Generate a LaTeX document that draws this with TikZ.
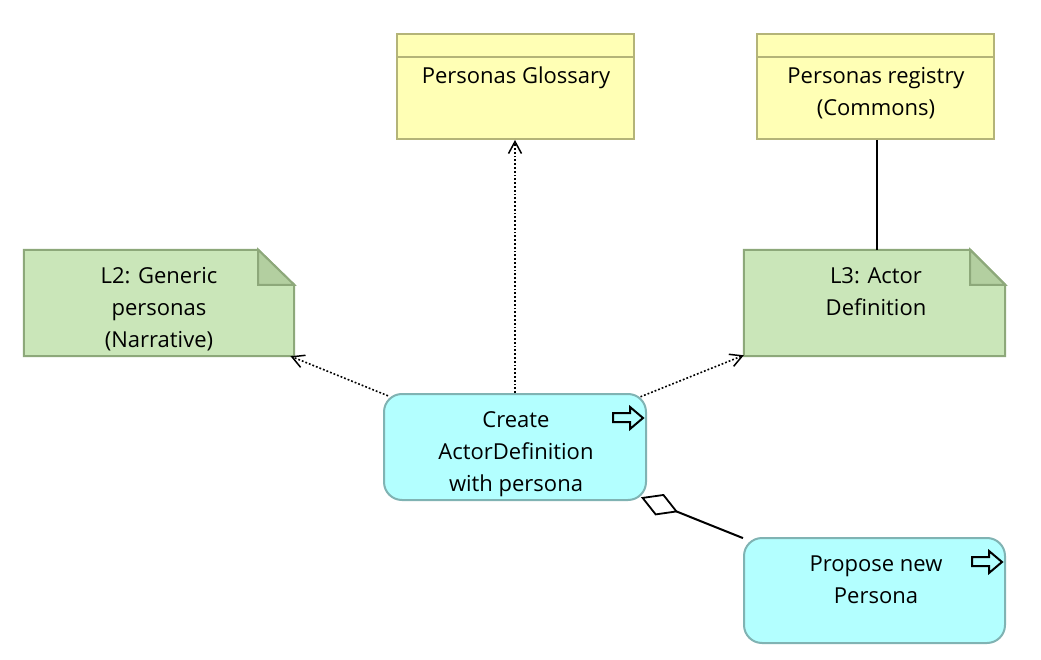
\documentclass[tikz,border=0pt]{standalone}
\usepackage{fontspec}
\setmainfont{Open Sans}
\usetikzlibrary{arrows.meta}
\definecolor{yfill}{HTML}{FFFFB5}
\definecolor{yborder}{HTML}{B4B478}
\definecolor{gfill}{HTML}{CAE6B9}
\definecolor{gborder}{HTML}{8DA87A}
\definecolor{gfold}{HTML}{B3CFA0}
\definecolor{cfill}{HTML}{B3FFFF}
\definecolor{cborder}{HTML}{80B3B3}
\tikzset{
  ybox/.style={draw=yborder, fill=yfill, line width=2pt, inner sep=0pt, minimum width=237pt, minimum height=105pt},
  notebox/.style={inner sep=0pt},
  notedraw/.style={draw=gborder, fill=gfill, line width=2pt, line join=miter},
  folddraw/.style={draw=gborder, fill=gfold, line width=2pt},
  cbox/.style={draw=cborder, fill=cfill, line width=2pt, rounded corners=18pt, inner sep=0pt, minimum width=262pt, minimum height=106pt},
  txt/.style={align=center, inner sep=0pt, anchor=north, font=\fontsize{22}{32}\selectfont},
  dotarrow/.style={line width=1.6pt, dash pattern=on 1.8pt off 2pt, -{Straight Barb[length=12pt,width=13pt,line width=1.5pt]}},
  plainline/.style={line width=2pt},
  aggline/.style={line width=2pt, {Diamond[open, fill=white, length=40pt, width=23pt, line width=1.8pt]}-},
  icon/.style={draw=black, fill=cfill, line width=2pt, line join=miter},
  blockarrow/.pic={\draw[icon] (-34,20) -- (-17,20) -- (-17,14) -- (-4,25) -- (-17,36) -- (-17,29) -- (-34,29) -- cycle;}
}
\begin{document}
\begin{tikzpicture}[x=1pt,y=-1pt]
\useasboundingbox[fill=white] (0,0) rectangle (1041,660);

% yellow boxes
\node[ybox] (gloss) at (515.5,86.5) {};
\draw[draw=yborder, line width=2pt] ([yshift=-24pt]gloss.north west) -- ([yshift=-24pt]gloss.north east);
\node[txt] (glosst) at (516,60.6) {\strut Personas Glossary};

\node[ybox] (reg) at (875.5,86.5) {};
\draw[draw=yborder, line width=2pt] ([yshift=-24pt]reg.north west) -- ([yshift=-24pt]reg.north east);
\node[txt] (regt) at (876,60.6) {\strut Personas registry\\(Commons)};

% notes
\node[notebox, minimum width=270pt, minimum height=106pt] (l2) at (159,303) {};
\draw[notedraw] (l2.north west) -- ([xshift=-36pt]l2.north east) -- ([yshift=-35pt]l2.north east) -- (l2.south east) -- (l2.south west) -- cycle;
\draw[folddraw] ([xshift=-36pt]l2.north east) -- ([xshift=-36pt,yshift=-35pt]l2.north east) -- ([yshift=-35pt]l2.north east) -- cycle;
\node[txt] (l2t) at (159,260.6) {\strut L2: Generic\\personas\\(Narrative)};

\node[notebox, minimum width=261pt, minimum height=106pt] (l3) at (874.5,303) {};
\draw[notedraw] (l3.north west) -- ([xshift=-35pt]l3.north east) -- ([yshift=-35pt]l3.north east) -- (l3.south east) -- (l3.south west) -- cycle;
\draw[folddraw] ([xshift=-35pt]l3.north east) -- ([xshift=-35pt,yshift=-35pt]l3.north east) -- ([yshift=-35pt]l3.north east) -- cycle;
\node[txt] (l3t) at (876,260.6) {\strut L3: Actor\\Definition};

% cyan boxes
\node[cbox] (create) at (515,447) {};
\node[txt] (createt) at (516,404.6) {\strut Create\\ActorDefinition\\with persona};
\pic at (create.north east) {blockarrow};

\node[cbox, minimum width=261pt, minimum height=105pt] (prop) at (874.5,590.5) {};
\node[txt] (propt) at (876,548.6) {\strut Propose new\\Persona};
\pic at (prop.north east) {blockarrow};

% connectors
\draw[dotarrow, shorten <=-5.4pt] (create) -- (l2);
\draw[dotarrow] (create.north) -- (create.north |- gloss.south);
\draw[dotarrow, shorten <=-7pt] (create) -- (l3);
\draw[plainline] ([xshift=1.5pt]reg.south) -- ([xshift=1.5pt]reg.south |- l3.north);
\draw[aggline, shorten <=-6.5pt] (create) -- (prop);
\end{tikzpicture}
\end{document}
